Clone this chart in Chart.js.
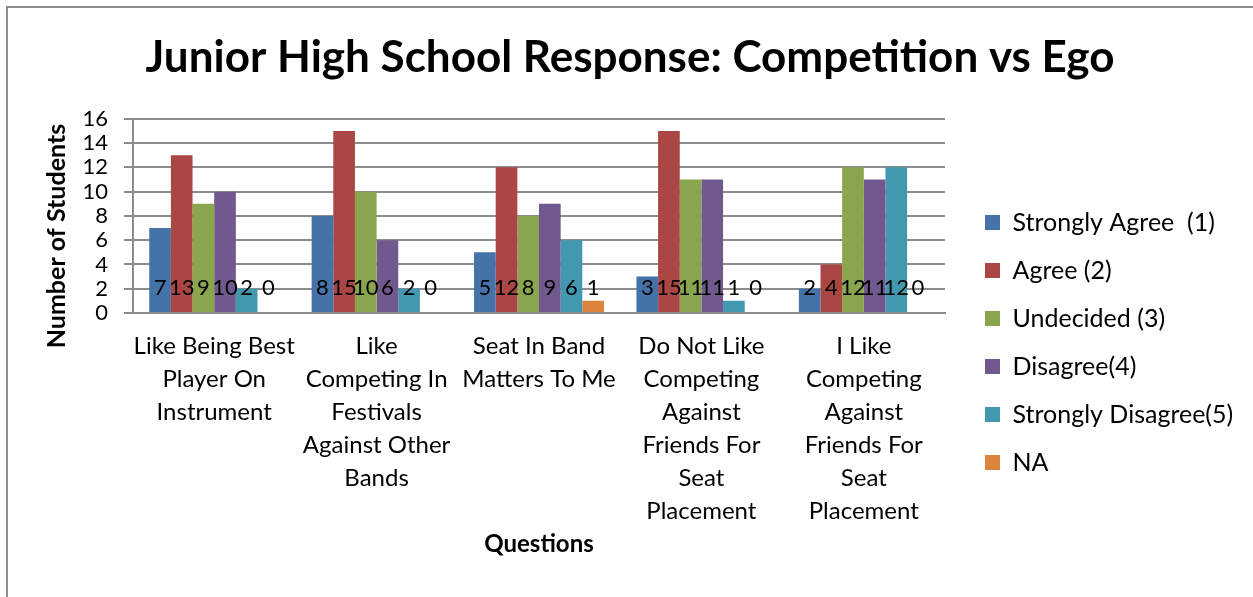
<!DOCTYPE html>
<html>
<head>
<meta charset="utf-8">
<title>Junior High School Response: Competition vs Ego</title>
<script src="https://cdn.jsdelivr.net/npm/chart.js@4"></script>
<style>
  html, body { margin: 0; padding: 0; background: #fff; }
</style>
</head>
<body>
<canvas id="myChart" width="1253" height="597"></canvas>
<script>
const questions = [
    ['Like Being Best', 'Player On', 'Instrument'],
    ['Like', 'Competing In', 'Festivals', 'Against Other', 'Bands'],
    ['Seat In Band', 'Matters To Me'],
    ['Do Not Like', 'Competing', 'Against', 'Friends For', 'Seat', 'Placement'],
    ['I Like', 'Competing', 'Against', 'Friends For', 'Seat', 'Placement']
]
const seriesNames = ['Strongly Agree  (1)', 'Agree (2)', 'Undecided (3)', 'Disagree(4)', 'Strongly Disagree(5)', 'NA']
const stronglyAgree = [7, 8, 5, 3, 2]
const agree = [13, 15, 12, 15, 4]
const undecided = [9, 10, 8, 11, 12]
const disagree = [10, 6, 9, 11, 11]
const stronglyDisagree = [2, 2, 6, 1, 12]
const notAnswered = [0, 0, 1, 0, 0]
const yMin = 0
const yMax = 16
const yStep = 2

const colors = ['#4572A7', '#AA4643', '#89A54E', '#71588F', '#4198AF', '#DB843D']
const FONT = 'Lato'
const GRID = '#8c8c8c'

let values = [stronglyAgree, agree, undecided, disagree, stronglyDisagree, notAnswered]
let datasets = values.map((data, i) => ({
    label: seriesNames[i],
    data: data,
    backgroundColor: colors[i],
    borderWidth: 0,
    categoryPercentage: 0.8,
    barPercentage: 1
}))

// white page with the grey frame round the chart
const frame = {
    id: 'frame',
    beforeDraw(chart) {
        let ctx = chart.ctx
        ctx.save()
        ctx.fillStyle = '#fff'
        ctx.fillRect(0, 0, chart.width, chart.height)
        ctx.strokeStyle = '#8c8c8c'
        ctx.lineWidth = 2
        ctx.strokeRect(7, 7, chart.width + 20, chart.height + 20)
        ctx.restore()
    }
}

// counts written in a row just above the baseline
const valueLabels = {
    id: 'valueLabels',
    afterDatasetsDraw(chart) {
        let ctx = chart.ctx
        let base = chart.scales.y.getPixelForValue(0)
        ctx.save()
        ctx.font = `22px ${FONT}`
        ctx.fillStyle = '#000'
        ctx.textAlign = 'center'
        ctx.textBaseline = 'middle'
        chart.data.datasets.forEach((ds, i) => {
            chart.getDatasetMeta(i).data.forEach((bar, j) => {
                ctx.fillText(ds.data[j], bar.x, base - 25)
            })
        })
        ctx.restore()
    }
}

// vertical axis title, sits a little below the middle of the axis
const yTitle = {
    id: 'yTitle',
    afterDraw(chart) {
        let ctx = chart.ctx
        ctx.save()
        ctx.translate(57, 236)
        ctx.rotate(-Math.PI / 2)
        ctx.font = `bold 25px ${FONT}`
        ctx.fillStyle = '#000'
        ctx.textAlign = 'center'
        ctx.textBaseline = 'middle'
        ctx.fillText('Number of Students', 0, 0)
        ctx.restore()
    }
}

// legend: fixed width, moved down to its own column
const legendPlace = {
    id: 'legendPlace',
    beforeUpdate(chart) {
        let lg = chart.legend
        if (lg && !lg._wrapped) {
            let fit = lg.fit
            lg.fit = function () {
                fit.call(this)
                this.width = 275
            }
            lg._wrapped = true
        }
    },
    afterLayout(chart) {
        let lg = chart.legend
        lg.left = 962
        lg.top = 187
        lg.right = chart.width
        lg.bottom = chart.height
        lg.width = lg.right - lg.left
        lg.height = lg.bottom - lg.top
    }
}

let ctx = document.getElementById('myChart').getContext('2d')
let chart = new Chart(ctx, {
    type: 'bar',
    data: {
        labels: questions,
        datasets: datasets
    },
    options: {
        responsive: false,
        animation: false,
        layout: {
            padding: { top: 8, left: 40, right: 33, bottom: 32 }
        },
        plugins: {
            title: {
                display: true,
                text: 'Junior High School Response: Competition vs Ego',
                color: '#000',
                font: { family: FONT, size: 44, weight: 'bold' },
                padding: { top: 23, bottom: 35 }
            },
            legend: {
                position: 'right',
                align: 'start',
                labels: {
                    color: '#000',
                    font: { family: FONT, size: 25 },
                    boxWidth: 15,
                    boxHeight: 15,
                    padding: 23
                }
            },
            tooltip: { enabled: false }
        },
        scales: {
            x: {
                grid: { display: false, drawTicks: false },
                border: { display: true, color: GRID, width: 2 },
                ticks: {
                    color: '#000',
                    font: { family: FONT, size: 24, lineHeight: 1.375 },
                    padding: 17,
                    maxRotation: 0,
                    autoSkip: false
                },
                title: {
                    display: true,
                    text: 'Questions',
                    color: '#000',
                    font: { family: FONT, size: 24, weight: 'bold' },
                    padding: { top: 0, bottom: 6 }
                },
                afterFit(scale) { scale.height = 252 }
            },
            y: {
                min: yMin,
                max: yMax,
                grid: { color: GRID, lineWidth: 2, drawTicks: true, tickLength: 9 },
                border: { display: true, color: GRID, width: 2 },
                ticks: {
                    stepSize: yStep,
                    autoSkip: false,
                    color: '#000',
                    font: { family: FONT, size: 22, lineHeight: 1 },
                    padding: 16
                },
                afterFit(scale) { scale.width = 93 }
            }
        }
    },
    plugins: [frame, valueLabels, yTitle, legendPlace]
})
</script>
</body>
</html>
